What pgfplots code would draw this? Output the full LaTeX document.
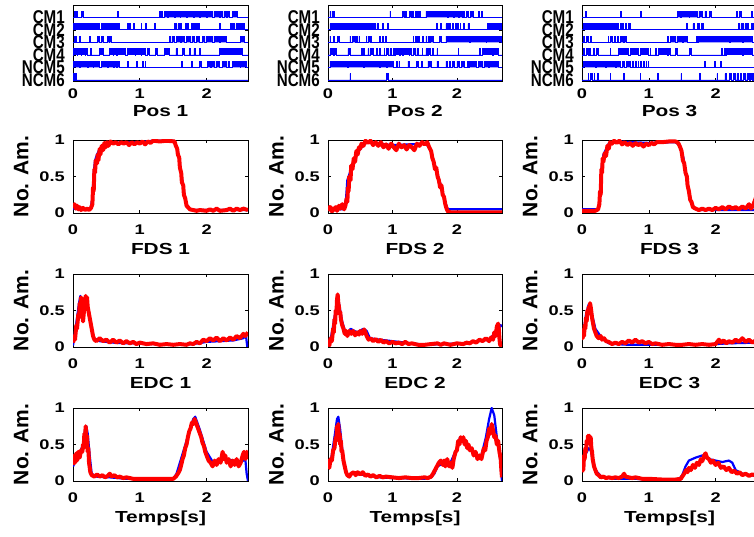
\documentclass[border=0pt]{standalone}
\usepackage{fontspec}
\setmainfont{Liberation Sans}
\newfontfamily\widesans{Liberation Sans}[FakeStretch=1.3]
\newfontfamily\narrowsans{Liberation Sans}[FakeStretch=0.82]
\usepackage{pgfplots}
\pgfplotsset{compat=1.18}
\newcommand\tickfont{\widesans\bfseries\fontsize{14}{14}\selectfont}
\newcommand\labfont{\widesans\bfseries\fontsize{16}{16}\selectfont}
\newcommand\ylabfont{\bfseries\fontsize{21}{21}\selectfont}
\newcommand\chfont{\narrowsans\bfseries\fontsize{18.5}{18}\selectfont}
\pgfplotsset{
  panel/.style={scale only axis, width=175pt, height=73pt, xmin=0, xtick={0,1,2},
    tick align=inside, major tick length=3pt,
    axis line style={black, line width=0.8pt}, tick style={black, line width=0.6pt},
    ticklabel style={font=\tickfont}, /pgf/number format/assume math mode=true,
    xticklabel style={inner sep=0pt, anchor=north, yshift=-12pt},
    yticklabel style={inner sep=0pt, anchor=east, xshift=-8pt},
    xlabel style={at={(axis description cs:0.5,0)}, anchor=north, inner sep=0pt, yshift=-30pt, font=\labfont},
    anchor=south west},
  env/.style={panel, ymin=0, ymax=1, ytick={0,0.5,1}, ylabel={No. Am.},
    ylabel style={at={(axis description cs:-0.253,0.5)}, anchor=south, inner sep=0pt, font=\ylabfont}},
  rast/.style={panel, height=76pt, ymin=-0.08, ymax=5.98, ytick={0,1,2,3,4,5},
    yticklabels={NCM6,NCM5,CM4,CM3,CM2,CM1}, yticklabel style={font=\chfont},
    xticklabel style={yshift=4pt}, xlabel style={yshift=6pt}},
  ch/.style={const plot, blue, fill=blue, line width=0.7pt},
  bl/.style={blue, line width=2.2pt, line join=round},
  rd/.style={red, line width=4pt, line join=round},
}
\begin{document}
\begin{tikzpicture}
\useasboundingbox (0,0) rectangle (754pt,537pt);
% ---------------- Row 1 ----------------
\begin{axis}[rast, at={(73pt,456pt)}, xmax=2.62, xlabel={Pos 1}]
\addplot[ch] coordinates {(0,5)(0.025,5.5)(0.04,5)(0.05,5.5)(0.06,5)(0.12,5.5)(0.15,5)(0.665,5.5)(0.675,5)(1.30,5.5)(1.31,5)(1.33,5.5)(1.34,5)(1.37,5.5)(1.41,5)(1.43,5.5)(1.52,5)(1.53,5.5)(1.60,5)(1.61,5.5)(1.69,5)(1.71,5.5)(1.80,5)(1.81,5.5)(1.89,5)(1.91,5.5)(2.00,5)(2.01,5.5)(2.09,5)(2.11,5.5)(2.19,5)(2.21,5.5)(2.24,5)(2.26,5.5)(2.29,5)(2.31,5.5)(2.34,5)(2.39,5.5)(2.46,5)(2.62,5)};
\addplot[ch] coordinates {(0,4)(0.01,4.5)(0.12,4)(0.13,4.5)(0.25,4)(0.26,4.5)(0.40,4)(0.42,4.5)(0.50,4)(0.51,4.5)(0.60,4)(0.62,4.5)(0.66,4)(0.67,4.5)(0.70,4)(0.82,4.5)(0.83,4)(0.85,4.5)(0.86,4)(0.90,4.5)(0.92,4)(1.02,4.5)(1.03,4)(1.09,4.5)(1.10,4)(1.22,4.5)(1.23,4)(1.52,4.5)(1.55,4)(1.57,4.5)(1.59,4)(1.61,4.5)(1.62,4)(1.68,4.5)(1.72,4)(1.77,4.5)(1.80,4)(1.82,4.5)(1.89,4)(2.19,4.5)(2.21,4)(2.36,4.5)(2.42,4)(2.44,4.5)(2.56,4)(2.62,4)};
\addplot[ch] coordinates {(0,3)(0.025,3.5)(0.035,3)(0.045,3.5)(0.05,3)(0.09,3.5)(0.11,3)(0.25,3.5)(0.26,3)(0.37,3.5)(0.40,3)(0.42,3.5)(0.45,3)(0.52,3.5)(0.54,3)(0.55,3.5)(0.57,3)(1.44,3.5)(1.46,3)(1.48,3.5)(1.52,3)(1.55,3.5)(1.60,3)(1.62,3.5)(1.67,3)(1.70,3.5)(1.75,3)(1.78,3.5)(1.82,3)(1.85,3.5)(1.89,3)(1.94,3.5)(1.96,3)(1.99,3.5)(2.09,3)(2.11,3.5)(2.19,3)(2.21,3.5)(2.29,3)(2.51,3.5)(2.56,3)(2.62,3)};
\addplot[ch] coordinates {(0,2)(0.01,2.5)(0.06,2)(0.07,2.5)(0.12,2)(0.13,2.5)(0.18,2)(0.19,2.5)(0.22,2)(0.26,2.5)(0.28,2)(0.40,2.5)(0.45,2)(0.55,2.5)(0.60,2)(0.61,2.5)(0.65,2)(0.67,2.5)(0.79,2)(0.82,2.5)(0.93,2)(0.94,2.5)(1.02,2)(1.03,2.5)(1.09,2)(1.12,2.5)(1.14,2)(1.24,2.5)(1.26,2)(1.37,2.5)(1.44,2)(1.54,2.5)(1.56,2)(1.64,2.5)(1.66,2)(1.74,2.5)(1.76,2)(1.81,2.5)(1.83,2)(1.89,2.5)(1.91,2)(2.19,2.5)(2.54,2)(2.62,2)};
\addplot[ch] coordinates {(0,1)(0.01,1.5)(0.10,1)(0.11,1.5)(0.22,1)(0.23,1.5)(0.30,1)(0.31,1.5)(0.40,1)(0.42,1.5)(0.52,1)(0.53,1.5)(0.60,1)(0.62,1.5)(0.65,1)(0.67,1.5)(0.69,1)(0.82,1.5)(0.835,1)(0.945,1.5)(0.96,1)(1.04,1.5)(1.06,1)(1.08,1.5)(1.09,1)(1.62,1.5)(1.63,1)(1.77,1.5)(1.78,1)(1.89,1.5)(1.92,1)(2.01,1.5)(2.05,1)(2.07,1.5)(2.12,1)(2.14,1.5)(2.19,1)(2.24,1.5)(2.30,1)(2.32,1.5)(2.34,1)(2.39,1.5)(2.50,1)(2.51,1.5)(2.59,1)(2.62,1)};
\addplot[ch] coordinates {(0,0)(0.01,0.5)(0.02,0)(0.03,0.5)(0.05,0)(2.62,0)};
\end{axis}
\begin{axis}[rast, at={(328pt,456pt)}, width=174pt, xmax=2.70, xlabel={Pos 2}]
\addplot[ch] coordinates {(0,5)(0.03,5.5)(0.04,5)(0.06,5.5)(0.08,5)(0.09,5.5)(0.10,5)(0.96,5.5)(0.97,5)(1.16,5.5)(1.18,5)(1.20,5.5)(1.21,5)(1.27,5.5)(1.29,5)(1.31,5.5)(1.33,5)(1.35,5.5)(1.37,5)(1.39,5.5)(1.40,5)(1.42,5.5)(1.44,5)(1.52,5.5)(1.85,5)(1.86,5.5)(1.95,5)(1.96,5.5)(2.02,5)(2.04,5.5)(2.08,5)(2.10,5.5)(2.12,5)(2.15,5.5)(2.17,5)(2.21,5.5)(2.25,5)(2.33,5.5)(2.35,5)(2.38,5.5)(2.39,5)(2.70,5)};
\addplot[ch] coordinates {(0,4)(0.03,4.5)(0.20,4)(0.22,4.5)(0.60,4)(0.61,4.5)(0.70,4)(0.72,4.5)(0.74,4)(0.76,4.5)(0.78,4)(0.85,4.5)(0.86,4)(0.92,4.5)(0.93,4)(1.68,4.5)(1.70,4)(1.74,4.5)(1.76,4)(1.83,4.5)(1.85,4)(1.87,4.5)(1.90,4)(1.93,4.5)(1.95,4)(1.98,4.5)(2.02,4)(2.05,4.5)(2.06,4)(2.10,4.5)(2.12,4)(2.17,4.5)(2.19,4)(2.48,4.5)(2.52,4)(2.54,4.5)(2.58,4)(2.60,4.5)(2.66,4)(2.67,4.5)(2.69,4)(2.70,4)};
\addplot[ch] coordinates {(0,3)(0.03,3.5)(0.04,3)(0.09,3.5)(0.10,3)(0.15,3.5)(0.17,3)(0.34,3.5)(0.35,3)(0.38,3.5)(0.42,3)(0.44,3.5)(0.46,3)(0.48,3.5)(0.49,3)(0.59,3.5)(0.60,3)(0.62,3.5)(0.65,3)(0.66,3.5)(0.67,3)(0.80,3.5)(0.81,3)(0.84,3.5)(0.86,3)(0.89,3.5)(0.90,3)(1.32,3.5)(1.33,3)(1.36,3.5)(1.37,3)(1.39,3.5)(1.40,3)(1.41,3.5)(1.42,3)(1.47,3.5)(1.48,3)(1.52,3.5)(1.53,3)(1.55,3.5)(1.57,3)(1.59,3.5)(1.63,3)(1.73,3.5)(1.76,3)(1.83,3.5)(2.20,3)(2.21,3.5)(2.45,3)(2.46,3.5)(2.69,3)(2.70,3)};
\addplot[ch] coordinates {(0,2)(0.03,2.5)(0.08,2)(0.10,2.5)(0.13,2)(0.31,2.5)(0.34,2)(0.52,2.5)(0.53,2)(0.55,2.5)(0.57,2)(0.62,2.5)(0.63,2)(0.65,2.5)(0.70,2)(0.75,2.5)(0.77,2)(0.80,2.5)(0.82,2)(0.87,2.5)(0.88,2)(0.90,2.5)(0.93,2)(0.96,2.5)(0.98,2)(1.01,2.5)(1.03,2)(1.05,2.5)(1.10,2)(1.13,2.5)(1.15,2)(1.17,2.5)(1.26,2)(1.27,2.5)(1.30,2)(1.32,2.5)(1.36,2)(1.38,2.5)(1.40,2)(1.46,2.5)(1.47,2)(1.52,2.5)(1.54,2)(1.56,2.5)(1.59,2)(1.62,2.5)(1.63,2)(1.69,2.5)(1.70,2)(2.02,2.5)(2.03,2)(2.35,2.5)(2.37,2)(2.40,2.5)(2.55,2)(2.56,2.5)(2.64,2)(2.70,2)};
\addplot[ch] coordinates {(0,1)(0.03,1.5)(0.30,1)(0.31,1.5)(0.55,1)(0.56,1.5)(0.80,1)(0.81,1.5)(0.90,1)(0.92,1.5)(1.01,1)(1.06,1.5)(1.08,1)(1.10,1.5)(1.11,1)(1.24,1.5)(1.26,1)(1.37,1.5)(1.40,1)(1.45,1.5)(1.46,1)(1.55,1.5)(1.60,1)(1.69,1.5)(1.71,1)(1.83,1.5)(1.85,1)(1.88,1.5)(1.90,1)(1.93,1.5)(1.96,1)(2.00,1.5)(2.04,1)(2.07,1.5)(2.12,1)(2.16,1.5)(2.17,1)(2.19,1.5)(2.30,1)(2.34,1.5)(2.40,1)(2.42,1.5)(2.49,1)(2.51,1.5)(2.64,1)(2.70,1)};
\addplot[ch] coordinates {(0,0)(0.34,0.5)(0.35,0)(0.91,0.5)(0.93,0)(2.70,0)};
\end{axis}
\begin{axis}[rast, at={(582pt,456pt)}, xmax=2.62, xlabel={Pos 3}]
\addplot[ch] coordinates {(0,5)(0.05,5.5)(0.07,5)(0.57,5.5)(0.59,5)(0.87,5.5)(0.89,5)(1.43,5.5)(1.47,5)(1.49,5.5)(1.60,5)(1.61,5.5)(1.73,5)(1.75,5.5)(1.80,5)(1.84,5.5)(1.86,5)(1.91,5.5)(1.93,5)(2.31,5.5)(2.32,5)(2.36,5.5)(2.38,5)(2.54,5.5)(2.55,5)(2.58,5.5)(2.59,5)(2.62,5)};
\addplot[ch] coordinates {(0,4)(0.015,4.5)(0.20,4)(0.21,4.5)(0.40,4)(0.41,4.5)(0.55,4)(0.57,4.5)(0.62,4)(0.65,4.5)(0.66,4)(0.70,4.5)(0.72,4)(1.56,4.5)(1.58,4)(1.66,4.5)(1.68,4)(1.73,4.5)(1.75,4)(1.79,4.5)(1.81,4)(2.34,4.5)(2.36,4)(2.38,4.5)(2.42,4)(2.44,4.5)(2.49,4)(2.54,4.5)(2.56,4)(2.62,4)};
\addplot[ch] coordinates {(0,3)(0.015,3.5)(0.03,3)(0.06,3.5)(0.09,3)(0.12,3.5)(0.14,3)(0.39,3.5)(0.40,3)(0.43,3.5)(0.45,3)(0.48,3.5)(0.50,3)(0.53,3.5)(0.55,3)(0.58,3.5)(0.62,3)(0.64,3.5)(0.67,3)(1.28,3.5)(1.29,3)(1.32,3.5)(1.40,3)(1.42,3.5)(1.50,3)(1.52,3.5)(1.58,3)(1.71,3.5)(1.72,3)(1.74,3.5)(2.20,3)(2.22,3.5)(2.40,3)(2.42,3.5)(2.55,3)(2.62,3)};
\addplot[ch] coordinates {(0,2)(0.015,2.5)(0.03,2)(0.06,2.5)(0.09,2)(0.11,2.5)(0.12,2)(0.17,2.5)(0.19,2)(0.22,2.5)(0.25,2)(0.42,2.5)(0.43,2)(0.55,2.5)(0.70,2)(0.72,2.5)(0.85,2)(0.87,2.5)(1.00,2)(1.02,2.5)(1.03,2)(1.10,2.5)(1.12,2)(1.14,2.5)(1.28,2)(1.30,2.5)(1.33,2)(1.40,2.5)(1.43,2)(1.61,2.5)(1.63,2)(2.09,2.5)(2.10,2)(2.13,2.5)(2.14,2)(2.16,2.5)(2.40,2)(2.42,2.5)(2.55,2)(2.62,2)};
\addplot[ch] coordinates {(0,1)(0.015,1.5)(0.20,1)(0.21,1.5)(0.35,1)(0.37,1.5)(0.50,1)(0.52,1.5)(0.58,1)(0.60,1.5)(0.64,1)(0.66,1.5)(0.72,1)(0.75,1.5)(0.77,1)(0.80,1.5)(0.81,1)(0.84,1.5)(0.85,1)(0.88,1.5)(0.89,1)(0.92,1.5)(0.93,1)(0.96,1.5)(0.97,1)(0.99,1.5)(1.00,1)(1.83,1.5)(1.85,1)(1.98,1.5)(1.99,1)(2.07,1.5)(2.09,1)(2.62,1)};
\addplot[ch] coordinates {(0,0)(0.09,0.5)(0.10,0)(0.13,0.5)(0.16,0)(0.18,0.5)(0.19,0)(0.23,0.5)(0.24,0)(0.42,0.5)(0.43,0)(0.62,0.5)(0.63,0)(0.87,0.5)(0.88,0)(1.13,0.5)(1.14,0)(1.48,0.5)(1.49,0)(1.76,0.5)(1.77,0)(2.02,0.5)(2.03,0)(2.14,0.5)(2.16,0)(2.21,0.5)(2.23,0)(2.27,0.5)(2.29,0)(2.32,0.5)(2.34,0)(2.37,0.5)(2.39,0)(2.42,0.5)(2.44,0)(2.47,0.5)(2.50,0)(2.52,0.5)(2.55,0)(2.57,0.5)(2.59,0)(2.62,0)};
\end{axis}
% ---------------- Row 2 : FDS ----------------
\begin{axis}[env, at={(73pt,324pt)}, xmax=2.62, xlabel={FDS 1}]
\addplot[bl] coordinates {(0,0.06)(0.1,0.05)(0.2,0.05)(0.26,0.05)(0.29,0.2)(0.31,0.55)(0.33,0.72)(0.36,0.8)(0.4,0.88)(0.45,0.93)(0.5,0.95)(0.6,0.96)(0.8,0.97)(1.0,0.97)(1.2,0.99)(1.5,0.99)(1.54,0.93)(1.58,0.8)(1.62,0.55)(1.66,0.3)(1.7,0.12)(1.75,0.05)(1.8,0.04)(2.0,0.04)(2.3,0.04)(2.62,0.04)};
\addplot[rd] coordinates {(0,0.1)(0.02,0.12)(0.04,0.06)(0.06,0.10)(0.08,0.05)(0.1,0.08)(0.12,0.04)(0.15,0.07)(0.18,0.04)(0.21,0.06)(0.24,0.04)(0.27,0.07)(0.29,0.12)(0.3,0.35)(0.31,0.3)(0.32,0.6)(0.33,0.55)(0.34,0.72)(0.36,0.68)(0.37,0.8)(0.38,0.72)(0.4,0.88)(0.41,0.8)(0.43,0.92)(0.45,0.86)(0.47,0.96)(0.49,0.9)(0.51,0.97)(0.53,0.92)(0.56,0.98)(0.6,0.95)(0.64,0.97)(0.68,0.94)(0.72,0.97)(0.76,0.95)(0.8,0.97)(0.84,0.93)(0.88,0.97)(0.92,0.94)(0.96,0.97)(1.0,0.95)(1.04,0.98)(1.08,0.94)(1.12,0.98)(1.16,0.96)(1.2,0.99)(1.3,0.98)(1.4,0.99)(1.52,0.98)(1.54,0.92)(1.56,0.88)(1.57,0.8)(1.59,0.76)(1.6,0.62)(1.62,0.55)(1.63,0.42)(1.65,0.38)(1.66,0.25)(1.68,0.2)(1.7,0.1)(1.72,0.08)(1.75,0.05)(1.8,0.04)(1.85,0.03)(1.9,0.04)(2.0,0.03)(2.05,0.05)(2.1,0.03)(2.15,0.06)(2.2,0.03)(2.3,0.04)(2.35,0.06)(2.4,0.03)(2.45,0.06)(2.5,0.04)(2.55,0.06)(2.62,0.04)};
\end{axis}
\begin{axis}[env, at={(328pt,324pt)}, width=174pt, xmax=2.70, xlabel={FDS 2}]
\addplot[bl] coordinates {(0,0.05)(0.25,0.05)(0.28,0.2)(0.3,0.45)(0.35,0.58)(0.45,0.82)(0.55,0.93)(0.6,0.97)(1.0,0.93)(1.5,0.95)(1.58,0.9)(1.65,0.68)(1.75,0.38)(1.82,0.14)(1.86,0.05)(1.9,0.05)(2.7,0.05)};
\addplot[rd] coordinates {(0,0.1)(0.02,0.05)(0.04,0.08)(0.06,0.02)(0.09,0.05)(0.12,0.08)(0.14,0.03)(0.17,0.1)(0.19,0.06)(0.22,0.12)(0.25,0.05)(0.27,0.1)(0.29,0.2)(0.3,0.15)(0.31,0.35)(0.32,0.3)(0.33,0.5)(0.35,0.45)(0.36,0.65)(0.38,0.6)(0.4,0.75)(0.42,0.7)(0.44,0.85)(0.46,0.8)(0.48,0.9)(0.5,0.88)(0.52,0.95)(0.55,0.92)(0.58,0.99)(0.62,0.96)(0.66,0.99)(0.7,0.93)(0.74,0.97)(0.78,0.92)(0.82,0.97)(0.86,0.9)(0.9,0.94)(0.94,0.88)(0.98,0.95)(1.02,0.9)(1.06,0.86)(1.1,0.95)(1.14,0.9)(1.18,0.93)(1.22,0.87)(1.26,0.93)(1.3,0.9)(1.34,0.86)(1.38,0.95)(1.42,0.92)(1.46,0.97)(1.5,0.94)(1.54,0.97)(1.57,0.9)(1.6,0.85)(1.62,0.75)(1.64,0.7)(1.66,0.6)(1.68,0.62)(1.7,0.5)(1.72,0.45)(1.74,0.35)(1.76,0.38)(1.78,0.25)(1.8,0.22)(1.82,0.12)(1.84,0.06)(1.86,0.02)(1.9,0.01)(2.7,0.01)};
\end{axis}
\begin{axis}[env, at={(582pt,324pt)}, xmax=2.62, xlabel={FDS 3}]
\addplot[bl] coordinates {(0,0.05)(0.2,0.05)(0.25,0.06)(0.27,0.3)(0.29,0.6)(0.32,0.8)(0.4,0.95)(0.5,0.98)(1.0,0.96)(1.4,0.97)(1.47,0.92)(1.52,0.75)(1.57,0.45)(1.62,0.2)(1.68,0.06)(1.75,0.04)(2.62,0.04)};
\addplot[rd] coordinates {(0,0.03)(0.1,0.03)(0.2,0.03)(0.24,0.05)(0.26,0.12)(0.27,0.3)(0.28,0.25)(0.29,0.6)(0.3,0.55)(0.31,0.75)(0.32,0.7)(0.34,0.82)(0.36,0.78)(0.38,0.92)(0.4,0.88)(0.42,0.97)(0.45,0.95)(0.48,0.99)(0.52,0.96)(0.56,0.99)(0.6,0.94)(0.64,0.97)(0.68,0.93)(0.72,0.96)(0.76,0.92)(0.8,0.96)(0.84,0.93)(0.88,0.95)(0.92,0.91)(0.96,0.95)(1.0,0.93)(1.04,0.96)(1.08,0.94)(1.12,0.97)(1.2,0.97)(1.3,0.98)(1.4,0.98)(1.44,0.96)(1.47,0.9)(1.49,0.85)(1.51,0.72)(1.53,0.68)(1.55,0.55)(1.57,0.5)(1.58,0.38)(1.6,0.3)(1.62,0.18)(1.64,0.15)(1.66,0.08)(1.7,0.06)(1.75,0.04)(1.8,0.06)(1.85,0.04)(1.9,0.06)(1.95,0.04)(2.0,0.07)(2.05,0.05)(2.1,0.08)(2.15,0.05)(2.2,0.09)(2.25,0.06)(2.3,0.08)(2.35,0.05)(2.4,0.09)(2.45,0.06)(2.5,0.12)(2.53,0.06)(2.56,0.1)(2.58,0.15)(2.6,0.2)(2.62,0.25)};
\end{axis}
% ---------------- Row 3 : EDC ----------------
\begin{axis}[env, at={(73pt,190pt)}, xmax=2.62, xlabel={EDC 1}]
\addplot[bl] coordinates {(0,0.02)(0.03,0.2)(0.06,0.4)(0.09,0.6)(0.11,0.7)(0.13,0.6)(0.15,0.45)(0.18,0.6)(0.2,0.65)(0.23,0.5)(0.27,0.3)(0.31,0.12)(0.4,0.08)(0.6,0.06)(0.8,0.05)(1.0,0.05)(1.4,0.03)(1.8,0.04)(2.0,0.07)(2.2,0.08)(2.4,0.09)(2.55,0.12)(2.59,0.15)(2.61,0.0)};
\addplot[rd] coordinates {(0,0.06)(0.02,0.15)(0.03,0.1)(0.05,0.3)(0.06,0.25)(0.08,0.45)(0.09,0.4)(0.1,0.6)(0.11,0.55)(0.12,0.68)(0.13,0.62)(0.14,0.5)(0.15,0.35)(0.16,0.45)(0.17,0.55)(0.18,0.62)(0.19,0.7)(0.2,0.62)(0.21,0.68)(0.22,0.55)(0.24,0.45)(0.26,0.35)(0.28,0.25)(0.3,0.15)(0.32,0.1)(0.35,0.08)(0.4,0.12)(0.45,0.08)(0.5,0.1)(0.55,0.06)(0.6,0.1)(0.65,0.06)(0.7,0.09)(0.75,0.05)(0.8,0.08)(0.85,0.05)(0.9,0.07)(0.95,0.04)(1.0,0.06)(1.1,0.04)(1.2,0.05)(1.3,0.03)(1.4,0.04)(1.5,0.03)(1.6,0.04)(1.7,0.03)(1.75,0.05)(1.8,0.04)(1.85,0.07)(1.9,0.05)(1.95,0.1)(2.0,0.08)(2.05,0.12)(2.1,0.09)(2.15,0.13)(2.2,0.08)(2.25,0.12)(2.3,0.09)(2.35,0.13)(2.4,0.1)(2.45,0.15)(2.5,0.12)(2.55,0.18)(2.58,0.15)(2.62,0.2)};
\end{axis}
\begin{axis}[env, at={(328pt,190pt)}, width=174pt, xmax=2.70, xlabel={EDC 2}]
\addplot[bl] coordinates {(0,0.02)(0.05,0.15)(0.1,0.4)(0.13,0.55)(0.15,0.7)(0.18,0.55)(0.22,0.35)(0.27,0.2)(0.3,0.18)(0.35,0.25)(0.45,0.2)(0.55,0.25)(0.6,0.22)(0.65,0.12)(0.8,0.1)(1.0,0.08)(1.2,0.06)(1.5,0.03)(1.8,0.04)(2.1,0.05)(2.3,0.08)(2.5,0.1)(2.6,0.2)(2.65,0.25)(2.68,0.3)(2.70,0.28)};
\addplot[rd] coordinates {(0,0.08)(0.02,0.02)(0.04,0.12)(0.06,0.08)(0.08,0.25)(0.09,0.2)(0.1,0.38)(0.11,0.32)(0.12,0.5)(0.13,0.45)(0.14,0.65)(0.15,0.72)(0.16,0.6)(0.17,0.55)(0.18,0.45)(0.19,0.48)(0.2,0.38)(0.22,0.3)(0.24,0.25)(0.26,0.18)(0.28,0.22)(0.3,0.15)(0.33,0.22)(0.36,0.18)(0.39,0.22)(0.42,0.16)(0.45,0.2)(0.48,0.17)(0.5,0.22)(0.53,0.18)(0.56,0.24)(0.58,0.2)(0.6,0.15)(0.63,0.1)(0.66,0.12)(0.7,0.08)(0.74,0.11)(0.78,0.07)(0.82,0.1)(0.86,0.06)(0.9,0.08)(0.95,0.05)(1.0,0.07)(1.05,0.05)(1.1,0.06)(1.15,0.04)(1.2,0.07)(1.25,0.04)(1.3,0.05)(1.4,0.03)(1.5,0.03)(1.6,0.04)(1.7,0.05)(1.75,0.03)(1.8,0.05)(1.9,0.03)(2.0,0.05)(2.1,0.04)(2.15,0.06)(2.2,0.05)(2.25,0.08)(2.3,0.06)(2.35,0.1)(2.4,0.08)(2.45,0.12)(2.5,0.08)(2.53,0.13)(2.56,0.1)(2.58,0.2)(2.6,0.15)(2.62,0.28)(2.64,0.32)(2.65,0.25)(2.66,0.12)(2.67,0.03)(2.7,0.01)};
\end{axis}
\begin{axis}[env, at={(582pt,190pt)}, xmax=2.62, xlabel={EDC 3}]
\addplot[bl] coordinates {(0,0.2)(0.03,0.25)(0.06,0.45)(0.1,0.58)(0.12,0.6)(0.15,0.45)(0.2,0.25)(0.3,0.12)(0.4,0.05)(0.5,0.04)(0.7,0.03)(1.0,0.03)(1.5,0.03)(2.0,0.04)(2.2,0.05)(2.62,0.06)};
\addplot[rd] coordinates {(0,0.25)(0.01,0.12)(0.02,0.2)(0.03,0.15)(0.04,0.3)(0.05,0.25)(0.06,0.4)(0.07,0.35)(0.08,0.5)(0.09,0.45)(0.1,0.55)(0.11,0.5)(0.12,0.6)(0.13,0.55)(0.14,0.48)(0.15,0.4)(0.16,0.35)(0.18,0.25)(0.2,0.2)(0.22,0.15)(0.25,0.12)(0.28,0.15)(0.3,0.1)(0.33,0.12)(0.36,0.08)(0.4,0.07)(0.45,0.04)(0.5,0.06)(0.55,0.04)(0.6,0.07)(0.65,0.05)(0.7,0.09)(0.75,0.06)(0.8,0.1)(0.85,0.06)(0.9,0.08)(0.95,0.05)(1.0,0.07)(1.05,0.04)(1.1,0.05)(1.2,0.03)(1.3,0.04)(1.4,0.03)(1.5,0.03)(1.6,0.04)(1.7,0.03)(1.8,0.04)(1.9,0.03)(2.0,0.04)(2.05,0.1)(2.08,0.06)(2.12,0.09)(2.16,0.05)(2.2,0.08)(2.25,0.06)(2.3,0.1)(2.35,0.07)(2.4,0.12)(2.45,0.07)(2.5,0.1)(2.55,0.06)(2.6,0.09)(2.62,0.07)};
\end{axis}
% ---------------- Row 4 : Temps ----------------
\begin{axis}[env, at={(73pt,56pt)}, xmax=2.62, xlabel={Temps[s]}]
\addplot[bl] coordinates {(0,0.2)(0.05,0.3)(0.1,0.38)(0.15,0.5)(0.18,0.7)(0.2,0.75)(0.22,0.65)(0.25,0.35)(0.28,0.1)(0.35,0.06)(0.55,0.05)(0.8,0.03)(1.2,0.03)(1.5,0.03)(1.55,0.1)(1.6,0.25)(1.7,0.55)(1.8,0.85)(1.83,0.88)(1.9,0.7)(2.0,0.4)(2.1,0.25)(2.2,0.3)(2.3,0.3)(2.4,0.28)(2.5,0.25)(2.58,0.3)(2.6,0.1)(2.62,0.0)};
\addplot[rd] coordinates {(0,0.22)(0.02,0.35)(0.03,0.25)(0.05,0.38)(0.06,0.28)(0.08,0.4)(0.1,0.32)(0.12,0.42)(0.14,0.4)(0.15,0.5)(0.16,0.45)(0.17,0.65)(0.18,0.6)(0.19,0.75)(0.2,0.55)(0.21,0.62)(0.22,0.4)(0.23,0.45)(0.24,0.25)(0.26,0.12)(0.28,0.08)(0.32,0.06)(0.36,0.09)(0.4,0.06)(0.44,0.08)(0.48,0.05)(0.52,0.07)(0.55,0.1)(0.58,0.06)(0.62,0.08)(0.66,0.05)(0.7,0.06)(0.75,0.04)(0.8,0.05)(0.9,0.03)(1.0,0.03)(1.2,0.03)(1.4,0.03)(1.5,0.03)(1.54,0.06)(1.57,0.1)(1.6,0.15)(1.62,0.22)(1.64,0.3)(1.66,0.35)(1.68,0.45)(1.7,0.5)(1.72,0.6)(1.74,0.68)(1.76,0.72)(1.78,0.8)(1.8,0.78)(1.82,0.85)(1.84,0.8)(1.86,0.75)(1.88,0.7)(1.9,0.65)(1.92,0.6)(1.94,0.52)(1.96,0.48)(1.98,0.4)(2.0,0.35)(2.03,0.28)(2.06,0.25)(2.09,0.2)(2.12,0.28)(2.15,0.22)(2.18,0.3)(2.21,0.25)(2.24,0.4)(2.26,0.3)(2.28,0.35)(2.3,0.25)(2.33,0.3)(2.36,0.2)(2.39,0.28)(2.42,0.22)(2.45,0.3)(2.48,0.2)(2.51,0.25)(2.54,0.35)(2.56,0.4)(2.58,0.3)(2.6,0.4)(2.62,0.3)};
\end{axis}
\begin{axis}[env, at={(328pt,56pt)}, width=174pt, xmax=2.70, xlabel={Temps[s]}]
\addplot[bl] coordinates {(0,0.2)(0.05,0.3)(0.1,0.6)(0.14,0.85)(0.16,0.88)(0.19,0.7)(0.22,0.45)(0.25,0.2)(0.3,0.08)(0.4,0.1)(0.6,0.08)(0.8,0.05)(1.0,0.04)(1.5,0.03)(1.6,0.05)(1.65,0.1)(1.7,0.2)(1.8,0.25)(1.9,0.25)(2.0,0.45)(2.05,0.6)(2.1,0.58)(2.2,0.45)(2.3,0.35)(2.38,0.35)(2.45,0.6)(2.5,0.85)(2.54,1.0)(2.58,0.9)(2.62,0.6)(2.66,0.4)(2.69,0.1)(2.7,0.0)};
\addplot[rd] coordinates {(0,0.3)(0.02,0.18)(0.04,0.3)(0.06,0.28)(0.08,0.42)(0.1,0.45)(0.12,0.6)(0.13,0.55)(0.14,0.75)(0.15,0.7)(0.16,0.78)(0.17,0.6)(0.18,0.65)(0.19,0.5)(0.2,0.55)(0.21,0.4)(0.22,0.42)(0.24,0.28)(0.26,0.2)(0.28,0.12)(0.3,0.08)(0.33,0.06)(0.36,0.1)(0.4,0.12)(0.43,0.08)(0.46,0.12)(0.5,0.09)(0.54,0.12)(0.58,0.07)(0.62,0.09)(0.66,0.06)(0.7,0.08)(0.75,0.05)(0.8,0.07)(0.85,0.05)(0.9,0.06)(1.0,0.05)(1.1,0.04)(1.2,0.05)(1.3,0.04)(1.4,0.04)(1.5,0.05)(1.55,0.04)(1.6,0.06)(1.63,0.1)(1.66,0.15)(1.69,0.2)(1.72,0.25)(1.75,0.28)(1.78,0.22)(1.8,0.28)(1.82,0.2)(1.85,0.3)(1.88,0.2)(1.9,0.25)(1.93,0.18)(1.95,0.3)(1.98,0.4)(2.0,0.42)(2.02,0.55)(2.04,0.5)(2.06,0.6)(2.08,0.55)(2.1,0.6)(2.12,0.5)(2.14,0.55)(2.16,0.45)(2.18,0.5)(2.2,0.42)(2.23,0.45)(2.26,0.35)(2.29,0.4)(2.32,0.3)(2.35,0.35)(2.38,0.3)(2.4,0.38)(2.42,0.45)(2.44,0.42)(2.46,0.55)(2.48,0.6)(2.5,0.72)(2.52,0.65)(2.54,0.78)(2.56,0.7)(2.58,0.6)(2.6,0.62)(2.62,0.5)(2.64,0.55)(2.66,0.4)(2.68,0.3)(2.69,0.15)(2.7,0.05)};
\end{axis}
\begin{axis}[env, at={(582pt,56pt)}, xmax=2.62, xlabel={Temps[s]}]
\addplot[bl] coordinates {(0,0.15)(0.03,0.3)(0.06,0.38)(0.1,0.45)(0.13,0.42)(0.16,0.3)(0.2,0.15)(0.3,0.05)(0.5,0.03)(0.8,0.03)(1.0,0.02)(1.45,0.02)(1.5,0.08)(1.55,0.2)(1.6,0.28)(1.7,0.32)(1.8,0.35)(1.9,0.3)(2.0,0.28)(2.1,0.26)(2.2,0.28)(2.25,0.25)(2.3,0.15)(2.4,0.1)(2.5,0.08)(2.62,0.07)};
\addplot[rd] coordinates {(0,0.12)(0.01,0.2)(0.02,0.15)(0.03,0.35)(0.04,0.3)(0.05,0.45)(0.06,0.4)(0.07,0.55)(0.08,0.5)(0.09,0.62)(0.1,0.55)(0.11,0.62)(0.12,0.55)(0.13,0.6)(0.14,0.45)(0.15,0.4)(0.16,0.3)(0.18,0.2)(0.2,0.15)(0.22,0.1)(0.25,0.08)(0.28,0.05)(0.32,0.06)(0.36,0.04)(0.4,0.05)(0.45,0.04)(0.5,0.05)(0.55,0.04)(0.6,0.06)(0.63,0.1)(0.65,0.06)(0.7,0.05)(0.75,0.04)(0.8,0.05)(0.9,0.03)(1.0,0.03)(1.2,0.02)(1.4,0.02)(1.48,0.03)(1.5,0.06)(1.53,0.1)(1.56,0.15)(1.58,0.12)(1.6,0.18)(1.63,0.15)(1.66,0.22)(1.69,0.18)(1.72,0.25)(1.75,0.22)(1.78,0.3)(1.8,0.27)(1.83,0.35)(1.85,0.38)(1.87,0.32)(1.9,0.3)(1.93,0.25)(1.96,0.28)(2.0,0.22)(2.04,0.25)(2.08,0.18)(2.12,0.2)(2.16,0.15)(2.2,0.18)(2.24,0.12)(2.28,0.14)(2.32,0.1)(2.36,0.12)(2.4,0.08)(2.45,0.1)(2.5,0.07)(2.55,0.09)(2.62,0.07)};
\end{axis}
\end{tikzpicture}
\end{document}
